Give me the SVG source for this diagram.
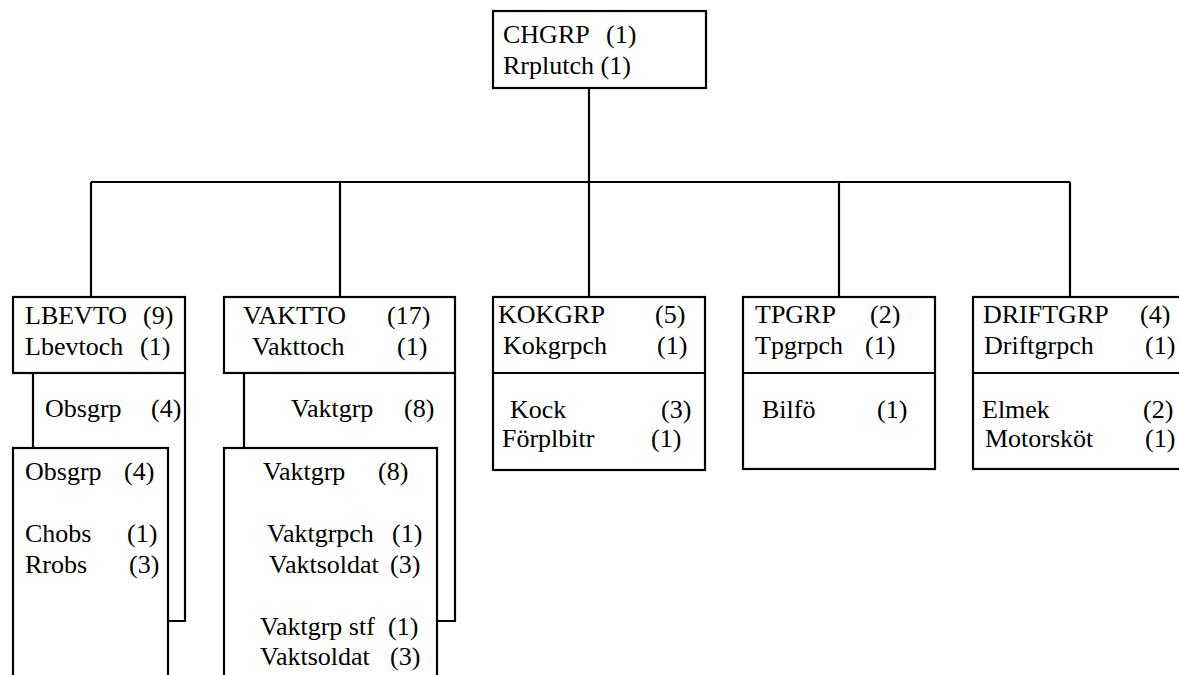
<svg xmlns="http://www.w3.org/2000/svg" width="1179" height="675" viewBox="0 0 1179 675">
<rect width="1179" height="675" fill="#fff"/>
<g id="connectors" fill="none" stroke="#000" stroke-width="2.2">
<line x1="589" y1="88" x2="589" y2="182"/>
<line x1="91" y1="182" x2="1070" y2="182"/>
<line x1="91" y1="182" x2="91" y2="297"/>
<line x1="340" y1="182" x2="340" y2="297"/>
<line x1="589" y1="182" x2="589" y2="297"/>
<line x1="839" y1="182" x2="839" y2="297"/>
<line x1="1070" y1="182" x2="1070" y2="297"/>
</g>
<g id="chgrp" stroke="#000" stroke-width="2.2">
<rect fill="#fff" x="493" y="11" width="213" height="77"/>
<text stroke="none" fill="#000" font-family="Liberation Serif" font-size="26" x="503" y="43">CHGRP</text><text stroke="none" fill="#000" font-family="Liberation Serif" font-size="26" x="606" y="43">(1)</text>
<text stroke="none" fill="#000" font-family="Liberation Serif" font-size="26" x="503" y="74">Rrplutch (1)</text>
</g>
<g id="lbevto" stroke="#000" stroke-width="2.2">
<polyline fill="none" points="33,373 33,448"/>
<polyline fill="none" points="185,373 185,621 168,621"/>
<rect fill="#fff" x="13" y="297" width="172" height="76"/>
<text stroke="none" fill="#000" font-family="Liberation Serif" font-size="26" x="25" y="324">LBEVTO</text><text stroke="none" fill="#000" font-family="Liberation Serif" font-size="26" x="143" y="324">(9)</text>
<text stroke="none" fill="#000" font-family="Liberation Serif" font-size="26" x="25" y="355">Lbevtoch</text><text stroke="none" fill="#000" font-family="Liberation Serif" font-size="26" x="140" y="355">(1)</text>
<text stroke="none" fill="#000" font-family="Liberation Serif" font-size="26" x="45" y="417">Obsgrp</text><text stroke="none" fill="#000" font-family="Liberation Serif" font-size="26" x="151" y="417">(4)</text>
</g>
<g id="obsgrp" stroke="#000" stroke-width="2.2">
<rect fill="#fff" x="13" y="448" width="155" height="240"/>
<text stroke="none" fill="#000" font-family="Liberation Serif" font-size="26" x="25" y="480">Obsgrp</text><text stroke="none" fill="#000" font-family="Liberation Serif" font-size="26" x="124" y="480">(4)</text>
<text stroke="none" fill="#000" font-family="Liberation Serif" font-size="26" x="25" y="542">Chobs</text><text stroke="none" fill="#000" font-family="Liberation Serif" font-size="26" x="127" y="542">(1)</text>
<text stroke="none" fill="#000" font-family="Liberation Serif" font-size="26" x="25" y="573">Rrobs</text><text stroke="none" fill="#000" font-family="Liberation Serif" font-size="26" x="129" y="573">(3)</text>
</g>
<g id="vaktto" stroke="#000" stroke-width="2.2">
<polyline fill="none" points="244,373 244,448"/>
<polyline fill="none" points="455,373 455,621 437,621"/>
<rect fill="#fff" x="224" y="297" width="231" height="76"/>
<text stroke="none" fill="#000" font-family="Liberation Serif" font-size="26" x="243" y="324">VAKTTO</text><text stroke="none" fill="#000" font-family="Liberation Serif" font-size="26" x="387" y="324">(17)</text>
<text stroke="none" fill="#000" font-family="Liberation Serif" font-size="26" x="252" y="355">Vakttoch</text><text stroke="none" fill="#000" font-family="Liberation Serif" font-size="26" x="397" y="355">(1)</text>
<text stroke="none" fill="#000" font-family="Liberation Serif" font-size="26" x="291" y="417">Vaktgrp</text><text stroke="none" fill="#000" font-family="Liberation Serif" font-size="26" x="404" y="417">(8)</text>
</g>
<g id="vaktgrp" stroke="#000" stroke-width="2.2">
<rect fill="#fff" x="224" y="448" width="213" height="240"/>
<text stroke="none" fill="#000" font-family="Liberation Serif" font-size="26" x="263" y="480">Vaktgrp</text><text stroke="none" fill="#000" font-family="Liberation Serif" font-size="26" x="378" y="480">(8)</text>
<text stroke="none" fill="#000" font-family="Liberation Serif" font-size="26" x="267" y="542">Vaktgrpch</text><text stroke="none" fill="#000" font-family="Liberation Serif" font-size="26" x="392" y="542">(1)</text>
<text stroke="none" fill="#000" font-family="Liberation Serif" font-size="26" x="269" y="573">Vaktsoldat</text><text stroke="none" fill="#000" font-family="Liberation Serif" font-size="26" x="390" y="573">(3)</text>
<text stroke="none" fill="#000" font-family="Liberation Serif" font-size="26" x="260" y="635">Vaktgrp stf</text><text stroke="none" fill="#000" font-family="Liberation Serif" font-size="26" x="388" y="635">(1)</text>
<text stroke="none" fill="#000" font-family="Liberation Serif" font-size="26" x="260" y="665">Vaktsoldat</text><text stroke="none" fill="#000" font-family="Liberation Serif" font-size="26" x="390" y="665">(3)</text>
</g>
<g id="kokgrp" stroke="#000" stroke-width="2.2">
<rect fill="#fff" x="493" y="297" width="212" height="173"/>
<line x1="493" y1="373" x2="705" y2="373"/>
<text stroke="none" fill="#000" font-family="Liberation Serif" font-size="26" x="498" y="323">KOKGRP</text><text stroke="none" fill="#000" font-family="Liberation Serif" font-size="26" x="655" y="323">(5)</text>
<text stroke="none" fill="#000" font-family="Liberation Serif" font-size="26" x="503" y="354">Kokgrpch</text><text stroke="none" fill="#000" font-family="Liberation Serif" font-size="26" x="657" y="354">(1)</text>
<text stroke="none" fill="#000" font-family="Liberation Serif" font-size="26" x="510" y="418">Kock</text><text stroke="none" fill="#000" font-family="Liberation Serif" font-size="26" x="661" y="418">(3)</text>
<text stroke="none" fill="#000" font-family="Liberation Serif" font-size="26" x="502" y="447">Förplbitr</text><text stroke="none" fill="#000" font-family="Liberation Serif" font-size="26" x="651" y="447">(1)</text>
</g>
<g id="tpgrp" stroke="#000" stroke-width="2.2">
<rect fill="#fff" x="743" y="297" width="192" height="172"/>
<line x1="743" y1="373" x2="935" y2="373"/>
<text stroke="none" fill="#000" font-family="Liberation Serif" font-size="26" x="755" y="323">TPGRP</text><text stroke="none" fill="#000" font-family="Liberation Serif" font-size="26" x="870" y="323">(2)</text>
<text stroke="none" fill="#000" font-family="Liberation Serif" font-size="26" x="755" y="354">Tpgrpch</text><text stroke="none" fill="#000" font-family="Liberation Serif" font-size="26" x="865" y="354">(1)</text>
<text stroke="none" fill="#000" font-family="Liberation Serif" font-size="26" x="762" y="418">Bilfö</text><text stroke="none" fill="#000" font-family="Liberation Serif" font-size="26" x="877" y="418">(1)</text>
</g>
<g id="driftgrp" stroke="#000" stroke-width="2.2">
<rect fill="#fff" x="973" y="297" width="215" height="172"/>
<line x1="973" y1="373" x2="1188" y2="373"/>
<text stroke="none" fill="#000" font-family="Liberation Serif" font-size="26" x="983" y="323">DRIFTGRP</text><text stroke="none" fill="#000" font-family="Liberation Serif" font-size="26" x="1140" y="323">(4)</text>
<text stroke="none" fill="#000" font-family="Liberation Serif" font-size="26" x="984" y="354">Driftgrpch</text><text stroke="none" fill="#000" font-family="Liberation Serif" font-size="26" x="1145" y="354">(1)</text>
<text stroke="none" fill="#000" font-family="Liberation Serif" font-size="26" x="982" y="418">Elmek</text><text stroke="none" fill="#000" font-family="Liberation Serif" font-size="26" x="1143" y="418">(2)</text>
<text stroke="none" fill="#000" font-family="Liberation Serif" font-size="26" x="985" y="447">Motorsköt</text><text stroke="none" fill="#000" font-family="Liberation Serif" font-size="26" x="1145" y="447">(1)</text>
</g>
</svg>
